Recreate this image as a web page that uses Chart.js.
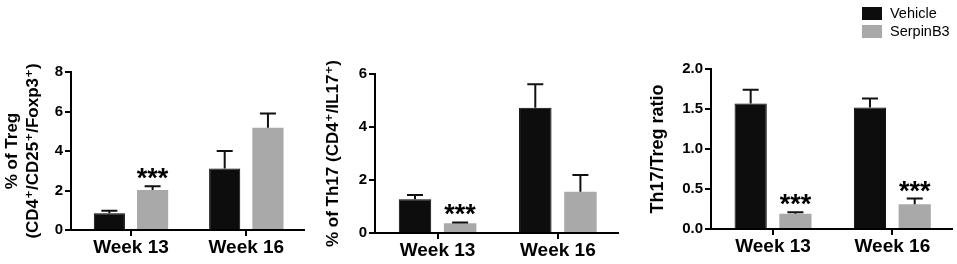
<!DOCTYPE html>
<html>
<head>
<meta charset="utf-8">
<script src="https://cdn.jsdelivr.net/npm/chart.js@4.4.1/dist/chart.umd.min.js"></script>
<style>
    html, body { margin: 0; padding: 0; background: #fff; }
    #wrap { position: relative; width: 957px; height: 264px; }
    canvas { position: absolute; top: 0; }
</style>
</head>
<body>
<div id="wrap">
    <canvas id="treg" width="320" height="264" style="left:0"></canvas>
    <canvas id="th17" width="320" height="264" style="left:320px"></canvas>
    <canvas id="ratio" width="317" height="264" style="left:640px"></canvas>
</div>
<script>
(function () {
    "use strict";

    // Data
    const weeks = ["Week 13", "Week 16"];
    const seriesNames = ["Vehicle", "SerpinB3"];

    const tregVehicle = [0.85, 3.12];
    const tregVehicleErr = [0.12, 0.88];
    const tregSerpin = [2.02, 5.18];
    const tregSerpinErr = [0.2, 0.72];
    const tregStars = ["***", ""];
    const tregTicks = [0, 2, 4, 6, 8];

    const th17Vehicle = [1.27, 4.73];
    const th17VehicleErr = [0.16, 0.88];
    const th17Serpin = [0.37, 1.56];
    const th17SerpinErr = [0.03, 0.63];
    const th17Stars = ["***", ""];
    const th17Ticks = [0, 2, 4, 6];

    const ratioVehicle = [1.57, 1.52];
    const ratioVehicleErr = [0.17, 0.11];
    const ratioSerpin = [0.19, 0.31];
    const ratioSerpinErr = [0.02, 0.07];
    const ratioStars = ["***", "***"];
    const ratioTicks = [0, 0.5, 1, 1.5, 2];

    const FONT = "'Liberation Sans', Arial, 'DejaVu Sans', sans-serif";
    const colors = ["#0d0d0d", "#a9a9a9"];

    // error bars (upper only) + significance stars
    const errorBars = {
        id: "errorBars",
        afterDatasetsDraw(chart) {
            const ctx = chart.ctx;
            const yScale = chart.scales.y;
            chart.data.datasets.forEach((ds, di) => {
                const meta = chart.getDatasetMeta(di);
                meta.data.forEach((bar, i) => {
                    const top = yScale.getPixelForValue(ds.data[i].y + ds.errors[i]);
                    ctx.save();
                    ctx.strokeStyle = "#111";
                    ctx.lineWidth = 2;
                    ctx.beginPath();
                    ctx.moveTo(bar.x, bar.y);
                    ctx.lineTo(bar.x, top);
                    ctx.moveTo(bar.x - 8, top);
                    ctx.lineTo(bar.x + 8, top);
                    ctx.stroke();
                    if (ds.stars && ds.stars[i]) {
                        ctx.fillStyle = "#000";
                        ctx.font = "bold 27px " + FONT;
                        ctx.textAlign = "center";
                        ctx.textBaseline = "alphabetic";
                        ctx.fillText(ds.stars[i], bar.x, top + 1);
                    }
                    ctx.restore();
                });
            });
        },
    };

    // legend in the top right of the last panel
    const boxLegend = {
        id: "boxLegend",
        afterDraw(chart) {
            const ctx = chart.ctx;
            ctx.save();
            chart.data.datasets.forEach((ds, i) => {
                const y = 7 + i * 18;
                ctx.fillStyle = ds.backgroundColor;
                ctx.fillRect(222, y, 20, 13);
                ctx.fillStyle = "#000";
                ctx.font = "14.5px " + FONT;
                ctx.textAlign = "left";
                ctx.textBaseline = "middle";
                ctx.fillText(ds.label, 250, y + 7);
            });
            ctx.restore();
        },
    };

    function makePanel(id, cfg) {
        const ctx = document.getElementById(id).getContext("2d");
        return new Chart(ctx, {
            type: "bar",
            data: {
                datasets: [
                    {
                        label: seriesNames[0],
                        data: cfg.vehicle.map((v, i) => ({ x: i, y: v })),
                        errors: cfg.vehicleErr,
                        backgroundColor: colors[0],
                        borderColor: "#000",
                        borderWidth: 1,
                        categoryPercentage: 0.75,
                        barPercentage: 0.72,
                    },
                    {
                        label: seriesNames[1],
                        data: cfg.serpin.map((v, i) => ({ x: i, y: v })),
                        errors: cfg.serpinErr,
                        stars: cfg.stars,
                        backgroundColor: colors[1],
                        borderWidth: 0,
                        categoryPercentage: 0.75,
                        barPercentage: 0.72,
                    },
                ],
            },
            options: {
                responsive: false,
                animation: false,
                devicePixelRatio: 1,
                layout: {
                    padding: { left: 0, top: cfg.top, right: cfg.right, bottom: 0 },
                },
                plugins: {
                    legend: { display: false },
                    tooltip: { enabled: false },
                },
                scales: {
                    x: {
                        type: "linear",
                        min: -0.52,
                        max: 1.5,
                        offset: false,
                        afterBuildTicks: (s) => {
                            s.ticks = weeks.map((w, i) => ({ value: i }));
                        },
                        afterFit: (s) => {
                            s.height = cfg.xHeight;
                        },
                        ticks: {
                            color: "#000",
                            padding: 0,
                            maxRotation: 0,
                            autoSkip: false,
                            font: { family: FONT, size: 19, weight: "bold" },
                            callback: (v) => weeks[v],
                        },
                        grid: {
                            drawOnChartArea: false,
                            offset: false,
                            color: "#000",
                            lineWidth: 2,
                            tickLength: 6,
                        },
                        border: { color: "#000", width: 2 },
                    },
                    y: {
                        min: cfg.ticks[0],
                        max: cfg.ticks[cfg.ticks.length - 1],
                        afterBuildTicks: (s) => {
                            s.ticks = cfg.ticks.map((v) => ({ value: v }));
                        },
                        afterFit: (s) => {
                            s.width = cfg.yWidth;
                        },
                        ticks: {
                            color: "#000",
                            padding: 2,
                            font: { family: FONT, size: 15, weight: "bold" },
                            callback: cfg.fmt,
                        },
                        grid: {
                            drawOnChartArea: false,
                            color: "#000",
                            lineWidth: 2,
                            tickLength: 6,
                        },
                        border: { color: "#000", width: 2 },
                        title: {
                            display: true,
                            text: cfg.title,
                            color: "#000",
                            font: { family: FONT, size: cfg.titleSize, weight: "bold", lineHeight: 1.24 },
                            padding: { top: cfg.titlePad, bottom: 0 },
                        },
                    },
                },
            },
            plugins: cfg.legend ? [errorBars, boxLegend] : [errorBars],
        });
    }

    makePanel("treg", {
        vehicle: tregVehicle,
        vehicleErr: tregVehicleErr,
        serpin: tregSerpin,
        serpinErr: tregSerpinErr,
        stars: tregStars,
        ticks: tregTicks,
        fmt: (v) => String(v),
        title: ["% of Treg", "(CD4\u207A/CD25\u207A/Foxp3\u207A)"],
        titleSize: 17,
        titlePad: 2,
        top: 72,
        right: 16,
        yWidth: 71,
        xHeight: 34,
    });

    makePanel("th17", {
        vehicle: th17Vehicle,
        vehicleErr: th17VehicleErr,
        serpin: th17Serpin,
        serpinErr: th17SerpinErr,
        stars: th17Stars,
        ticks: th17Ticks,
        fmt: (v) => String(v),
        title: "% of Th17 (CD4\u207A/IL17\u207A)",
        titleSize: 17,
        titlePad: 3,
        top: 74,
        right: 22,
        yWidth: 55,
        xHeight: 31,
    });

    makePanel("ratio", {
        vehicle: ratioVehicle,
        vehicleErr: ratioVehicleErr,
        serpin: ratioSerpin,
        serpinErr: ratioSerpinErr,
        stars: ratioStars,
        ticks: ratioTicks,
        fmt: (v) => v.toFixed(1),
        title: "Th17/Treg ratio",
        titleSize: 18,
        titlePad: 7,
        top: 69,
        right: 5,
        yWidth: 71,
        xHeight: 35,
        legend: true,
    });
})();
</script>
</body>
</html>
